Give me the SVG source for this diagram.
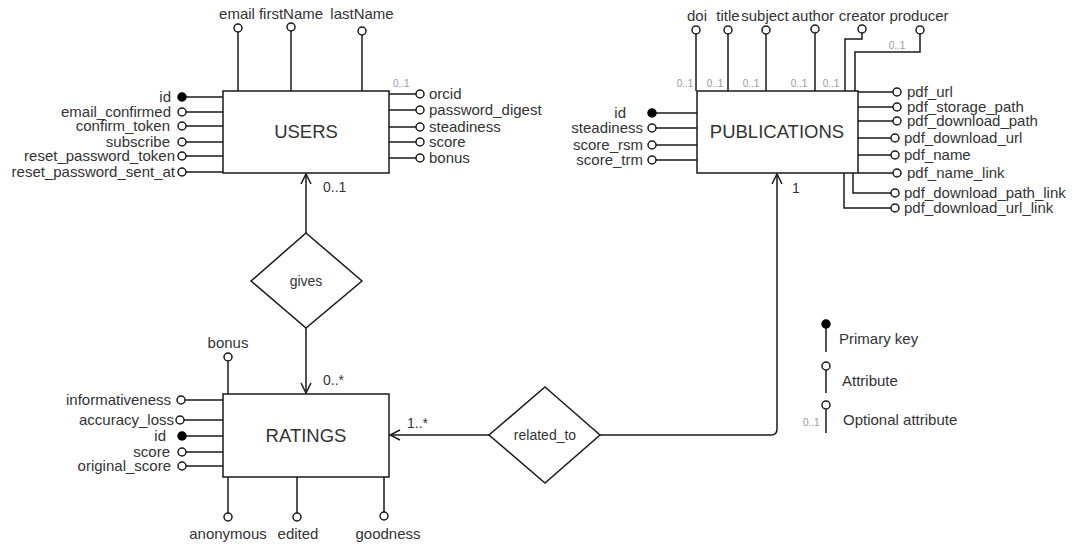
<svg xmlns="http://www.w3.org/2000/svg" width="1075" height="547" viewBox="0 0 1075 547">
<defs>
<style>
text{font-family:"Liberation Sans",Arial,sans-serif;fill:#333}
.t{font-size:15px}
.e{text-anchor:end}
.m{text-anchor:middle}
.h{font-size:18.5px;text-anchor:middle}
.o{font-size:10px;fill:#999}
.c{font-size:14px}
.ln{fill:none;stroke:#1a1a1a;stroke-width:1.5}
.box{fill:#fff;stroke:#1a1a1a;stroke-width:1.5}
.a{fill:#fff;stroke:#1a1a1a;stroke-width:1.5}
.k{fill:#000;stroke:#000;stroke-width:1.5}
</style>
<marker id="arr" viewBox="0 0 12 12" refX="11" refY="6" markerWidth="12" markerHeight="12" markerUnits="userSpaceOnUse" orient="auto">
<path d="M1 1 L11 6 L1 11" fill="none" stroke="#1a1a1a" stroke-width="1.5"/>
</marker>
</defs>
<rect width="1075" height="547" fill="#fff"/>

<g id="connectors">
<path class="ln" d="M306 233 V174" marker-end="url(#arr)"/>
<path class="ln" d="M306 328 V393" marker-end="url(#arr)"/>
<path class="ln" d="M489 435 H390" marker-end="url(#arr)"/>
<path class="ln" d="M600 435 H771 Q777 435 777 429 V174" marker-end="url(#arr)"/>
<text class="c" x="323" y="192">0..1</text>
<text class="c" x="323" y="385">0..*</text>
<text class="c" x="407" y="428">1..*</text>
<text class="c" x="792" y="193">1</text>
</g>

<g id="users">
<path class="ln" d="M238 91 V32 M291 91 V31 M362 91 V35 M186 97 H223 M186 112 H223 M186 126 H223 M186 142 H223 M186 156 H223 M186 172 H223 M389 94 H416 M389 110 H416 M389 127 H416 M389 142 H416 M389 158 H416"/>
<rect class="box" x="223" y="91" width="166" height="82"/>
<text class="h" x="306" y="138">USERS</text>
<circle class="a" cx="238" cy="28" r="4"/>
<circle class="a" cx="291" cy="27" r="4"/>
<circle class="a" cx="362" cy="31" r="4"/>
<text class="t m" x="237" y="19">email</text>
<text class="t m" x="291" y="19">firstName</text>
<text class="t m" x="362" y="19">lastName</text>
<circle class="k" cx="182" cy="97" r="4"/>
<circle class="a" cx="182" cy="112" r="4"/>
<circle class="a" cx="182" cy="126" r="4"/>
<circle class="a" cx="182" cy="142" r="4"/>
<circle class="a" cx="182" cy="156" r="4"/>
<circle class="a" cx="182" cy="172" r="4"/>
<text class="t e" x="171" y="102">id</text>
<text class="t e" x="171" y="117">email_confirmed</text>
<text class="t e" x="170" y="131">confirm_token</text>
<text class="t e" x="170" y="147">subscribe</text>
<text class="t e" x="175" y="161">reset_password_token</text>
<text class="t e" x="175" y="177">reset_password_sent_at</text>
<circle class="a" cx="420" cy="94" r="4"/>
<circle class="a" cx="420" cy="110" r="4"/>
<circle class="a" cx="420" cy="127" r="4"/>
<circle class="a" cx="420" cy="142" r="4"/>
<circle class="a" cx="420" cy="158" r="4"/>
<text class="o" x="393" y="87">0..1</text>
<text class="t" x="429" y="99">orcid</text>
<text class="t" x="429" y="115">password_digest</text>
<text class="t" x="429" y="132">steadiness</text>
<text class="t" x="429" y="147">score</text>
<text class="t" x="429" y="163">bonus</text>
</g>

<g id="publications">
<path class="ln" d="M696 91 V34 M728 91 V34 M766 91 V34 M815 91 V33 M845 91 V39 H862 V33 M855 91 V52 H920 V34 M656 113 H697 M656 128 H697 M656 145 H697 M656 160 H697 M858 92 H893 M858 107 H893 M858 121 H893 M858 138 H891 M858 155 H891 M858 173 H893 M853 173 V193 H891 M844 173 V208 H891"/>
<rect class="box" x="697" y="91" width="161" height="82"/>
<text class="h" x="777" y="138">PUBLICATIONS</text>
<circle class="a" cx="696" cy="30" r="4"/>
<circle class="a" cx="728" cy="30" r="4"/>
<circle class="a" cx="766" cy="30" r="4"/>
<circle class="a" cx="815" cy="29" r="4"/>
<circle class="a" cx="862" cy="29" r="4"/>
<circle class="a" cx="920" cy="30" r="4"/>
<text class="t m" x="697" y="21">doi</text>
<text class="t m" x="728" y="21">title</text>
<text class="t m" x="765" y="21">subject</text>
<text class="t m" x="813" y="21">author</text>
<text class="t m" x="862" y="21">creator</text>
<text class="t m" x="919" y="21">producer</text>
<text class="o m" x="685" y="87">0..1</text>
<text class="o m" x="715" y="87">0..1</text>
<text class="o m" x="751" y="87">0..1</text>
<text class="o m" x="799" y="87">0..1</text>
<text class="o m" x="831" y="87">0..1</text>
<text class="o m" x="897" y="49">0..1</text>
<circle class="k" cx="652" cy="113" r="4"/>
<circle class="a" cx="652" cy="128" r="4"/>
<circle class="a" cx="652" cy="145" r="4"/>
<circle class="a" cx="652" cy="160" r="4"/>
<text class="t e" x="626" y="118">id</text>
<text class="t e" x="643" y="133">steadiness</text>
<text class="t e" x="643" y="150">score_rsm</text>
<text class="t e" x="643" y="165">score_trm</text>
<circle class="a" cx="897" cy="92" r="4"/>
<circle class="a" cx="897" cy="107" r="4"/>
<circle class="a" cx="897" cy="121" r="4"/>
<circle class="a" cx="895" cy="138" r="4"/>
<circle class="a" cx="895" cy="155" r="4"/>
<circle class="a" cx="897" cy="173" r="4"/>
<circle class="a" cx="895" cy="193" r="4"/>
<circle class="a" cx="895" cy="208" r="4"/>
<text class="t" x="907" y="97">pdf_url</text>
<text class="t" x="907" y="112">pdf_storage_path</text>
<text class="t" x="907" y="126">pdf_download_path</text>
<text class="t" x="904" y="143">pdf_download_url</text>
<text class="t" x="904" y="160">pdf_name</text>
<text class="t" x="907" y="178">pdf_name_link</text>
<text class="t" x="904" y="198">pdf_download_path_link</text>
<text class="t" x="904" y="213">pdf_download_url_link</text>
</g>

<g id="ratings">
<path class="ln" d="M228 394 V361 M185 400 H223 M184 420 H223 M186 436 H223 M186 452 H223 M186 466 H223 M228 477 V513 M297 477 V513 M384 477 V512"/>
<rect class="box" x="223" y="394" width="166" height="83"/>
<text class="h" x="306" y="442">RATINGS</text>
<circle class="a" cx="228" cy="357" r="4"/>
<text class="t m" x="228" y="348">bonus</text>
<circle class="a" cx="181" cy="400" r="4"/>
<circle class="a" cx="180" cy="420" r="4"/>
<circle class="k" cx="182" cy="436" r="4"/>
<circle class="a" cx="182" cy="452" r="4"/>
<circle class="a" cx="182" cy="466" r="4"/>
<text class="t e" x="171" y="405">informativeness</text>
<text class="t e" x="174" y="425">accuracy_loss</text>
<text class="t e" x="166" y="441">id</text>
<text class="t e" x="170" y="457">score</text>
<text class="t e" x="171" y="471">original_score</text>
<circle class="a" cx="228" cy="517" r="4"/>
<circle class="a" cx="297" cy="517" r="4"/>
<circle class="a" cx="384" cy="516" r="4"/>
<text class="t m" x="228" y="539">anonymous</text>
<text class="t m" x="298" y="539">edited</text>
<text class="t m" x="388" y="539">goodness</text>
</g>

<g id="gives">
<polygon class="box" points="306,233 362,281 306,328 251,281"/>
<text class="c m" x="306" y="286">gives</text>
</g>

<g id="related_to">
<polygon class="box" points="545,387 600,435 545,483 489,435"/>
<text class="c m" x="545" y="440">related_to</text>
</g>

<g id="legend">
<path class="ln" d="M826 328 V352 M826 370 V393 M826 409 V433"/>
<circle class="k" cx="826" cy="324" r="4"/>
<circle class="a" cx="826" cy="366" r="4"/>
<circle class="a" cx="826" cy="405" r="4"/>
<text class="t" x="839" y="344">Primary key</text>
<text class="t" x="842" y="386">Attribute</text>
<text class="o" x="803" y="426">0..1</text>
<text class="t" x="843" y="425">Optional attribute</text>
</g>
</svg>
